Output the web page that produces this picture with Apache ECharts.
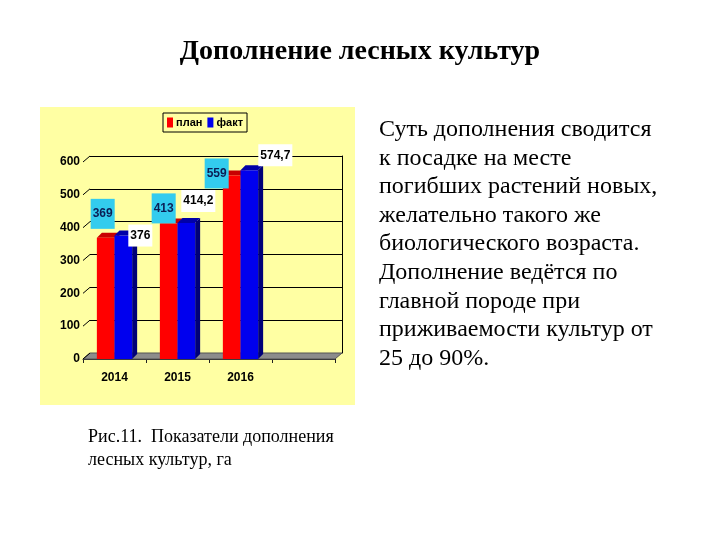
<!DOCTYPE html>
<html>
<head>
<meta charset="utf-8">
<script src="https://cdn.jsdelivr.net/npm/echarts@6/dist/echarts.min.js"></script>
<style>
  html, body { margin: 0; padding: 0; background: #fff; }
  #chart { width: 720px; height: 540px; }
</style>
</head>
<body>
<div id="chart"></div>
<script>
const categories = ['2014', '2015', '2016', ''];
const planValues = [369, 413, 559];
const factValues = [376, 414.2, 574.7];
const yTicks = [0, 100, 200, 300, 400, 500, 600];

// where each data label sits relative to the top of its bar (Excel placed them by hand)
const planLabelShift = [[-3, -24], [-5, -15], [-15, -2]];
const factLabelShift = [[17, 0], [12, -22], [26, -15]];

const textLines = [
  'Суть дополнения сводится',
  'к посадке на месте',
  'погибших растений новых,',
  'желательно такого же',
  'биологического возраста.',
  'Дополнение ведётся по',
  'главной породе при',
  'приживаемости культур от',
  '25 до 90%.'
];

const SANS = '"Liberation Sans", Arial, sans-serif';
const SERIF = '"Liberation Serif", "Times New Roman", serif';
const WALL_DX = 7, WALL_DY = 6;   // depth of the back wall
const BAR_D = 5;                  // depth of bars
const BAR_FRAC = 0.28;

const fmt = v => String(v).replace('.', ',');

function barRenderer(shift, colors) {
  return function (params, api) {
    const i = api.value(0);
    const base = api.coord([i, 0]);
    const top = api.coord([i, api.value(1)]);
    const w = api.size([1, 0])[0] * BAR_FRAC;
    const x = base[0] + shift * w;
    const y0 = base[1], y1 = top[1], d = BAR_D;
    return {
      type: 'group',
      children: [
        {type: 'polygon', shape: {points: [[x + w, y1], [x + w + d, y1 - d], [x + w + d, y0 - d], [x + w, y0]]}, style: {fill: colors[2]}},
        {type: 'polygon', shape: {points: [[x, y1], [x + d, y1 - d], [x + w + d, y1 - d], [x + w, y1]]}, style: {fill: colors[1]}},
        {type: 'rect', shape: {x: x, y: y1, width: w, height: y0 - y1}, style: {fill: colors[0]}}
      ]
    };
  };
}

function labelRenderer(shift, offsets, look) {
  return function (params, api) {
    const i = api.value(0);
    const base = api.coord([i, 0]);
    const top = api.coord([i, api.value(1)]);
    const w = api.size([1, 0])[0] * BAR_FRAC;
    const cx = base[0] + shift * w + w / 2;
    const off = offsets[params.dataIndex];
    return {
      type: 'text',
      x: cx + off[0],
      y: top[1] + off[1],
      style: Object.assign({
        text: fmt(api.value(1)),
        font: 'bold 12px ' + SANS,
        align: 'center',
        verticalAlign: 'middle'
      }, look)
    };
  };
}

const chart = echarts.init(document.getElementById('chart'));

const option = {
  backgroundColor: '#ffffff',
  animation: false,
  graphic: [
    {type: 'rect', z: -10, shape: {x: 40, y: 107, width: 315, height: 298}, style: {fill: '#FFFFA3'}},
    {type: 'text', x: 360, y: 52, style: {text: 'Дополнение лесных культур', font: 'bold 28px ' + SERIF, fill: '#000', align: 'center', verticalAlign: 'middle'}},
    {type: 'text', x: 379, y: 115.5, style: {text: textLines.join('\n'), font: '24px ' + SERIF, lineHeight: 28.6, fill: '#000'}},
    {type: 'text', x: 88, y: 425.5, style: {text: 'Рис.11.  Показатели дополнения\nлесных культур, га', font: '18px ' + SERIF, lineHeight: 23, fill: '#000'}}
  ],
  legend: {
    data: ['план', 'факт'],
    left: 163,
    top: 113,
    orient: 'horizontal',
    padding: [4, 4, 4, 4],
    borderColor: '#000',
    borderWidth: 1,
    itemWidth: 6,
    itemHeight: 10,
    itemGap: 5,
    icon: 'rect',
    textStyle: {fontFamily: SANS, fontWeight: 'bold', fontSize: 11, color: '#000', padding: [0, 0, 0, -2]}
  },
  grid: [
    {left: 83 + WALL_DX, right: 385 - WALL_DX, top: 162 - WALL_DY, bottom: 181 + WALL_DY},
    {left: 83, right: 385, top: 162, bottom: 181}
  ],
  xAxis: [
    {gridIndex: 0, type: 'category', data: categories, show: false},
    {
      gridIndex: 1, type: 'category', data: categories,
      axisLine: {lineStyle: {color: '#222', width: 1}},
      axisTick: {show: true, length: 4, lineStyle: {color: '#222'}},
      axisLabel: {fontFamily: SANS, fontWeight: 'bold', fontSize: 12, color: '#000', margin: 13}
    }
  ],
  yAxis: [
    {
      gridIndex: 0, type: 'value', min: 0, max: 600, interval: 100, position: 'right',
      axisLine: {show: true, lineStyle: {color: '#000'}},
      axisTick: {show: false},
      axisLabel: {show: false},
      splitLine: {show: true, lineStyle: {color: '#000', width: 1}}
    },
    {
      gridIndex: 1, type: 'value', min: 0, max: 600, interval: 100,
      axisLine: {show: false},
      axisTick: {show: false},
      splitLine: {show: false},
      axisLabel: {fontFamily: SANS, fontWeight: 'bold', fontSize: 12, color: '#000', margin: 3}
    }
  ],
  series: [
    {
      name: 'floor', type: 'custom', xAxisIndex: 1, yAxisIndex: 1, z: 1,
      data: [[0, 0]],
      renderItem: function (params, api) {
        const band = api.size([1, 0])[0];
        const p = api.coord([0, 0]);
        const left = p[0] - band / 2;
        const right = left + band * categories.length;
        const y = p[1];
        return {
          type: 'polygon',
          shape: {points: [[left, y], [left + WALL_DX, y - WALL_DY], [right + WALL_DX, y - WALL_DY], [right, y]]},
          style: {fill: '#8C8C8C', stroke: '#555', lineWidth: 1}
        };
      }
    },
    {
      name: 'ticks', type: 'custom', xAxisIndex: 1, yAxisIndex: 1, z: 1,
      data: yTicks.map(v => [0, v]),
      renderItem: function (params, api) {
        const band = api.size([1, 0])[0];
        const p = api.coord([0, api.value(1)]);
        const left = p[0] - band / 2;
        return {
          type: 'line',
          shape: {x1: left, y1: p[1], x2: left + WALL_DX, y2: p[1] - WALL_DY},
          style: {stroke: '#000', lineWidth: 1}
        };
      }
    },
    {
      name: 'план', type: 'custom', xAxisIndex: 1, yAxisIndex: 1, z: 3,
      itemStyle: {color: '#FF0000'},
      data: planValues.map((v, i) => [i, v]),
      renderItem: barRenderer(-1, ['#FF0000', '#C80000', '#8A0000'])
    },
    {
      name: 'факт', type: 'custom', xAxisIndex: 1, yAxisIndex: 1, z: 4,
      itemStyle: {color: '#0000EE'},
      data: factValues.map((v, i) => [i, v]),
      renderItem: barRenderer(0, ['#0000EE', '#0000A8', '#000078'])
    },
    {
      name: 'planLabels', type: 'custom', xAxisIndex: 1, yAxisIndex: 1, z: 6,
      data: planValues.map((v, i) => [i, v]),
      renderItem: labelRenderer(-1, planLabelShift, {fill: '#0B1E55', backgroundColor: '#33CCEE', padding: [9, 2, 9, 2]})
    },
    {
      name: 'factLabels', type: 'custom', xAxisIndex: 1, yAxisIndex: 1, z: 6,
      data: factValues.map((v, i) => [i, v]),
      renderItem: labelRenderer(0, factLabelShift, {fill: '#000', backgroundColor: '#FFFFFF', padding: [5, 2, 5, 2]})
    }
  ]
};

chart.setOption(option);
</script>
</body>
</html>
